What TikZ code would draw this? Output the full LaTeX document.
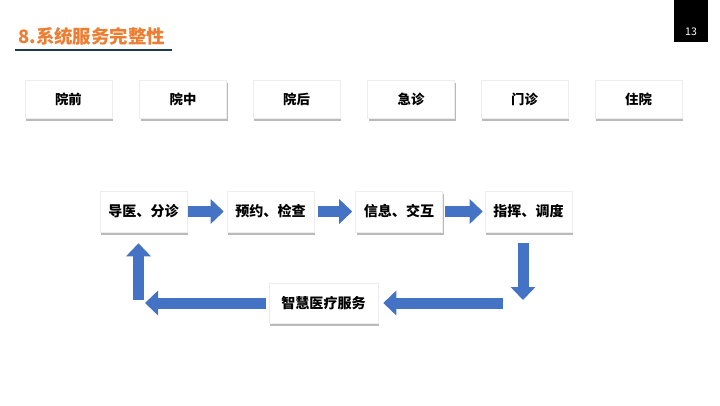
\documentclass[tikz,border=0pt]{standalone}
\usepackage{fontspec}
\setmainfont{Noto Sans CJK SC}
\usepackage{xcolor}
\usetikzlibrary{arrows.meta,shadows}
\definecolor{SYOrange}{HTML}{ED7D31}
\definecolor{SYNavy}{HTML}{1F3A55}
\definecolor{SYBlue}{HTML}{4472C4}
\definecolor{SYLine}{HTML}{EDEDED}
\begin{document}
\begin{tikzpicture}[x=1cm,y=1cm,
  card/.style={draw=SYLine,line width=.3pt,fill=white,
    drop shadow={shadow xshift=.02cm,shadow yshift=-.05cm,opacity=.45,fill=black!60},
    font=\fontsize{7.6}{9}\selectfont\bfseries,inner sep=0pt},
  topcard/.style={card,minimum width=1.74cm,minimum height=.76cm},
  stepcard/.style={card,minimum width=1.74cm,minimum height=.82cm,
    font=\fontsize{8}{9}\selectfont\bfseries},
  flow/.style={SYBlue,line width=.22cm,
    -{Triangle[length=.26cm,width=.48cm]}}]
\path[use as bounding box] (0,0) rectangle (14.40,8.10);
\fill[white] (0,0) rectangle (14.40,8.10);
% header
\fill[black] (13.48,8.10) rectangle (14.16,7.26);
\node[white,font=\fontsize{6}{7}\selectfont] (page) at (13.82,7.46) {13};
\node[anchor=west,SYOrange,inner sep=0pt,font=\fontsize{10.5}{12}\selectfont\bfseries] (title) at (0.36,7.38) {8.系统服务完整性};
\draw[SYNavy,line width=.9pt] (0.30,7.10) -- (3.44,7.10);
% scenes
\node[topcard] (pre) at (1.37,6.12) {院前};
\node[topcard] (mid) at (3.66,6.12) {院中};
\node[topcard] (post) at (5.93,6.12) {院后};
\node[topcard] (emerg) at (8.22,6.12) {急诊};
\node[topcard] (clinic) at (10.49,6.12) {门诊};
\node[topcard] (ward) at (12.77,6.12) {住院};
% cycle
\node[stepcard] (guide) at (2.87,3.87) {导医、分诊};
\node[stepcard] (book) at (5.41,3.87) {预约、检查};
\node[stepcard] (info) at (7.98,3.87) {信息、交互};
\node[stepcard] (cmd) at (10.57,3.87) {指挥、调度};
\node[stepcard,minimum width=2.18cm,minimum height=.80cm] (smart) at (6.47,2.04) {智慧医疗服务};
\coordinate (cR) at (10.46,2.04);
\coordinate (cL) at (2.77,2.04);
\draw[flow,shorten <=.02cm,shorten >=.06cm] (guide) -- (book);
\draw[flow,shorten <=.08cm,shorten >=.06cm] (book) -- (info);
\draw[flow,shorten <=.04cm,shorten >=.04cm] (info) -- (cmd);
\draw[flow,shorten <=.22cm,shorten >=.06cm] (cmd.south -| cR) -- (cR);
\draw[flow,shorten <=.40cm,shorten >=.10cm] (cR) -- (smart);
\draw[flow,shorten <=.06cm,shorten >=.13cm] (smart) -- (cL);
\draw[flow,shorten <=.06cm,shorten >=.22cm] (cL) -- (guide.south -| cL);
\end{tikzpicture}
\end{document}
